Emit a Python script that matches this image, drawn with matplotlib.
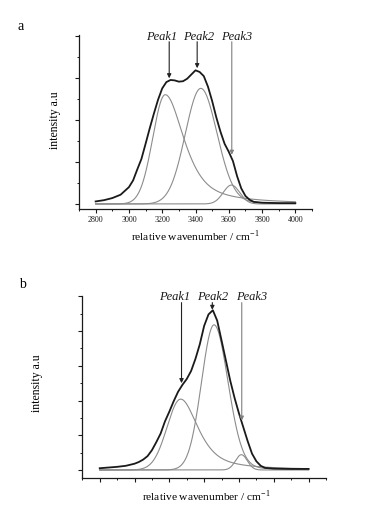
import numpy as np
import matplotlib

matplotlib.use('Agg')
import matplotlib.pyplot as plt
from matplotlib.ticker import MultipleLocator, NullFormatter

plt.rcParams['font.family'] = ['Liberation Serif', 'DejaVu Serif']

# measured spectra (wavenumber / cm-1, intensity a.u.)
wn_a = [2800, 2850, 2900, 2950, 3000, 3025, 3050, 3075, 3100, 3125, 3150, 3175, 3200,
        3225, 3250, 3275, 3300, 3325, 3350, 3375, 3400, 3425, 3450, 3475, 3500, 3525,
        3550, 3575, 3600, 3625, 3650, 3675, 3700, 3725, 3750, 3800, 3900, 4000]
spec_a = [0.06, 0.09, 0.14, 0.22, 0.40, 0.56, 0.82, 1.07, 1.43, 1.80, 2.15, 2.48, 2.75,
          2.90, 2.95, 2.94, 2.91, 2.92, 2.98, 3.08, 3.18, 3.14, 3.04, 2.79, 2.45, 2.06,
          1.72, 1.43, 1.24, 1.02, 0.66, 0.37, 0.19, 0.10, 0.05, 0.03, 0.02, 0.02]

wn_b = [2800, 2850, 2900, 2950, 3000, 3025, 3050, 3075, 3100, 3125, 3150, 3175, 3200,
        3225, 3250, 3275, 3300, 3325, 3350, 3375, 3400, 3425, 3450, 3475, 3500, 3525,
        3550, 3575, 3600, 3625, 3650, 3675, 3700, 3725, 3750, 3800, 3900, 4000]
spec_b = [0.05, 0.07, 0.09, 0.12, 0.18, 0.23, 0.30, 0.40, 0.57, 0.80, 1.05, 1.40, 1.68,
          1.98, 2.25, 2.45, 2.62, 2.85, 3.20, 3.62, 4.15, 4.48, 4.60, 4.30, 3.73, 3.15,
          2.57, 2.07, 1.63, 1.23, 0.83, 0.47, 0.25, 0.12, 0.06, 0.04, 0.03, 0.03]

# fitted peak components (split pseudo-voigt): centre, height, hwhm left/right, lorentz fraction left/right
peak_names = ['Peak1', 'Peak2', 'Peak3']
cen_a = [3218, 3432, 3616]
amp_a = [2.60, 2.75, 0.45]
wl_a = [88, 110, 58]
wr_a = [135, 116, 58]
etal_a = [0.0, 0.0, 0.0]
etar_a = [0.7, 0.1, 0.0]

cen_b = [3265, 3457, 3614]
amp_b = [2.04, 4.18, 0.44]
wl_b = [92, 85, 40]
wr_b = [120, 95, 40]
etal_b = [0.0, 0.0, 0.0]
etar_b = [0.7, 0.1, 0.0]

# arrow positions: label x, arrow x, arrow tip y
lab_x_a = [3194, 3420, 3648]
arr_x_a = [3242, 3410, 3618]
tip_a = [2.99, 3.23, 1.17]
lab_x_b = [3228, 3448, 3674]
arr_x_b = [3270, 3447, 3616]
tip_b = [2.50, 4.61, 1.42]
arrow_cols = ['#222222', '#222222', '#808080']


def split_pv(x, c, a, wl, wr, el, er):
    d = x - c
    w = np.where(d < 0, wl, wr)
    eta = np.where(d < 0, el, er)
    u = (d / w) ** 2
    return a * ((1 - eta) * np.exp(-np.log(2) * u) + eta / (1 + u))


W, H = 370, 519
fig = plt.figure(figsize=(W / 100, H / 100), dpi=100)
ax_a = fig.add_axes([79 / W, 1 - 209 / H, 233 / W, 174 / H])
ax_b = fig.add_axes([82.3 / W, 1 - 478.3 / H, 243.7 / W, 182.3 / H])

xx = np.arange(2800, 4001, 2.0)

panels = [
    (ax_a, wn_a, spec_a, cen_a, amp_a, wl_a, wr_a, etal_a, etar_a, lab_x_a, arr_x_a, tip_a, 3.98, 3.86, (-0.12, 4.02), True),
    (ax_b, wn_b, spec_b, cen_b, amp_b, wl_b, wr_b, etal_b, etar_b, lab_x_b, arr_x_b, tip_b, 4.99, 4.82, (-0.24, 5.01), False),
]

for ax, wn, spec, cen, amp, wl, wr, el, er, labx, arrx, tip, laby, arry, ylim, xlabels in panels:
    for i in range(len(cen)):
        ax.plot(xx, split_pv(xx, cen[i], amp[i], wl[i], wr[i], el[i], er[i]),
                color='#8c8c8c', lw=0.8)
    ax.plot(wn, spec, color='#1a1a1a', lw=1.3, solid_joinstyle='round')
    for i, name in enumerate(peak_names):
        ax.annotate('', xy=(arrx[i], tip[i]), xytext=(arrx[i], arry),
                    arrowprops=dict(arrowstyle='-|>', lw=0.8, color=arrow_cols[i],
                                    mutation_scale=6, shrinkA=0, shrinkB=0))
        ax.text(labx[i], laby, name, style='italic', fontsize=9, ha='center', va='center',
                color='#1a1a1a', clip_on=False)
    ax.set_xlim(2700, 4100)
    ax.set_ylim(*ylim)
    ax.spines['top'].set_visible(False)
    ax.spines['right'].set_visible(False)
    for s in ['left', 'bottom']:
        ax.spines[s].set_linewidth(0.9)
        ax.spines[s].set_color('#1a1a1a')
    ax.xaxis.set_major_locator(MultipleLocator(200))
    ax.xaxis.set_minor_locator(MultipleLocator(100))
    ax.yaxis.set_major_locator(MultipleLocator(1))
    ax.yaxis.set_minor_locator(MultipleLocator(0.5))
    ax.yaxis.set_major_formatter(NullFormatter())
    if not xlabels:
        ax.xaxis.set_major_formatter(NullFormatter())
    ax.tick_params(which='major', direction='out', length=3, width=0.8, labelsize=5.8, pad=2,
                   colors='#1a1a1a')
    ax.tick_params(which='minor', direction='out', length=1.6, width=0.7, colors='#1a1a1a')

ax_a.set_xticks([2800, 3000, 3200, 3400, 3600, 3800, 4000])

xlab = 'relative wavenumber / cm$^{\\mathregular{-1}}$'
fig.text(20.7 / W, 1 - 26.7 / H, 'a', fontsize=10, ha='center', va='center')
fig.text(22.7 / W, 1 - 285 / H, 'b', fontsize=10, ha='center', va='center')
fig.text(55 / W, 1 - 120 / H, 'intensity a.u', fontsize=8.5, rotation=90, ha='center', va='center')
fig.text(36.7 / W, 1 - 383.3 / H, 'intensity a.u', fontsize=8.5, rotation=90, ha='center', va='center')
fig.text(195 / W, 1 - 236.7 / H, xlab, fontsize=8.2, ha='center', va='center')
fig.text(206.7 / W, 1 - 496.7 / H, xlab, fontsize=8.2, ha='center', va='center')

fig.savefig('out.png', dpi=100)
